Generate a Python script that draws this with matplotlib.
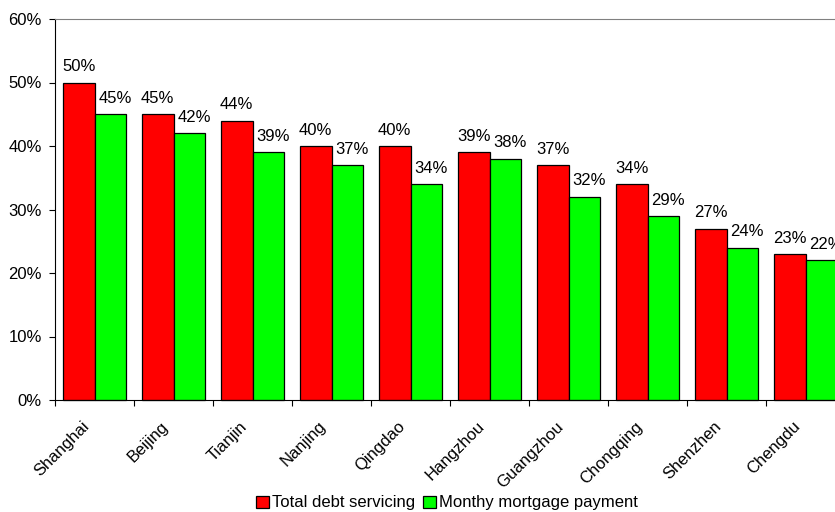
import numpy as np
import matplotlib as mpl
import matplotlib.pyplot as plt
from matplotlib.ticker import FuncFormatter
from matplotlib.transforms import ScaledTranslation

mpl.rcParams.update({
    "font.family": ["Liberation Sans", "DejaVu Sans"],
    "font.size": 12,
})

cities = ["Shanghai", "Beijing", "Tianjin", "Nanjing", "Qingdao",
          "Hangzhou", "Guangzhou", "Chongqing", "Shenzhen", "Chengdu"]
total_debt = [50, 45, 44, 40, 40, 39, 37, 34, 27, 23]
mortgage = [45, 42, 39, 37, 34, 38, 32, 29, 24, 22]
series_names = ["Total debt servicing", "Monthy mortgage payment"]
y_ticks = [0, 10, 20, 30, 40, 50, 60]

RED = "#ff0000"
GREEN = "#00ff00"

fig = plt.figure(figsize=(8.35, 5.12), dpi=100)
ax = fig.add_axes([55 / 835, 112 / 512, 790 / 835, 381 / 512])

x = np.arange(len(cities))
w = 0.4
b1 = ax.bar(x + 0.3, total_debt, w, color=RED, edgecolor="black",
            linewidth=0.9, label=series_names[0], clip_on=False)
b2 = ax.bar(x + 0.7, mortgage, w, color=GREEN, edgecolor="black",
            linewidth=0.9, label=series_names[1], clip_on=False)

# value labels; green ones sit a little right of their bar, as in Excel
for bars, vals, dx in ((b1, total_debt, 0), (b2, mortgage, 3.5)):
    for r, v in zip(bars, vals):
        ax.annotate(f"{v}%", (r.get_x() + r.get_width() / 2, v),
                    xytext=(dx, 6), textcoords="offset points",
                    ha="center", va="bottom", fontsize=12, annotation_clip=False)

ax.set_xlim(0, len(cities))
ax.set_ylim(0, 60)
ax.set_yticks(y_ticks)
ax.yaxis.set_major_formatter(FuncFormatter(lambda v, _: f"{v:.0f}%"))

ax.set_xticks(np.arange(len(cities) + 1))
ax.set_xticklabels([])
ax.set_xticks(x + 0.5, minor=True)
ax.set_xticklabels(cities, minor=True, rotation=45, ha="right",
                   rotation_mode="anchor")
ax.tick_params(axis="x", which="minor", length=0, pad=13.5)
ax.tick_params(axis="x", which="major", length=4, direction="out")
ax.tick_params(axis="y", length=4, direction="out", pad=5.5, labelsize=12)

shift = ScaledTranslation(-13 / 100, 0, fig.dpi_scale_trans)
for lbl in ax.get_xticklabels(minor=True):
    lbl.set_transform(lbl.get_transform() + shift)

ax.spines["right"].set_visible(False)
ax.spines["top"].set_color("#808080")
ax.spines["left"].set_color("black")
ax.spines["bottom"].set_color("black")

fig.legend(handles=[b1, b2], labels=series_names, loc="center",
           bbox_to_anchor=(447 / 835, 1 - 503 / 512), ncol=2, frameon=False,
           handlelength=0.75, handleheight=0.75, handletextpad=0.2,
           columnspacing=0.5, fontsize=12, borderpad=0)

fig.savefig("out.png", dpi=100)
